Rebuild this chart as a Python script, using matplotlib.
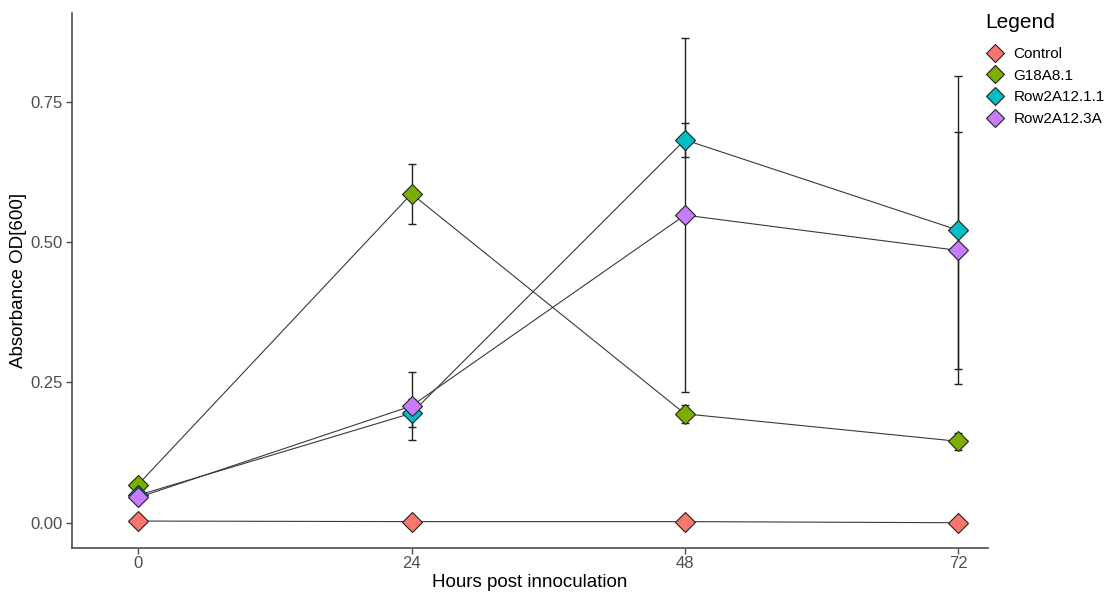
import matplotlib
matplotlib.use("Agg")
import matplotlib.pyplot as plt
from matplotlib.lines import Line2D

plt.rcParams['font.family'] = ['Liberation Sans', 'DejaVu Sans']

hours = [0, 24, 48, 72]
strains = ["Control", "G18A8.1", "Row2A12.1.1", "Row2A12.3A"]
colors = ["#F8766D", "#7CAE00", "#00BFC4", "#C77CFF"]

control_mean = [0.003, 0.002, 0.002, 0.000]
control_sd = [0.004, 0.004, 0.004, 0.003]
g18_mean = [0.068, 0.586, 0.194, 0.145]
g18_sd = [0.008, 0.053, 0.016, 0.015]
r1211_mean = [0.049, 0.195, 0.682, 0.521]
r1211_sd = [0.005, 0.025, 0.030, 0.274]
r123a_mean = [0.045, 0.208, 0.548, 0.485]
r123a_sd = [0.006, 0.061, 0.315, 0.211]

means = [control_mean, g18_mean, r1211_mean, r123a_mean]
sds = [control_sd, g18_sd, r1211_sd, r123a_sd]

fig = plt.figure(figsize=(11.06, 5.94), dpi=100)
ax = fig.add_axes([72 / 1106, 46 / 594, (988 - 72) / 1106, (548 - 13) / 594])

for m in means:
    ax.plot(hours, m, color="#3a3a3a", lw=0.8, zorder=1)
for m, s in zip(means, sds):
    ax.errorbar(hours, m, yerr=s, fmt="none", ecolor="#222222", elinewidth=1.0,
                capsize=2.8, capthick=1.0, zorder=2)
for m, c in zip(means, colors):
    ax.plot(hours, m, linestyle="none", marker="D", ms=10, mfc=c,
            mec="#222222", mew=0.8, zorder=3)

ax.set_xlim(-5.8, 74.6)
ax.set_ylim(-0.045, 0.908)
ax.set_xticks(hours)
ax.set_xticklabels([str(h) for h in hours])
ax.set_yticks([0.0, 0.25, 0.5, 0.75])
ax.set_yticklabels(["0.00", "0.25", "0.50", "0.75"])

for side in ["top", "right"]:
    ax.spines[side].set_visible(False)
for side in ["left", "bottom"]:
    ax.spines[side].set_color("#4D4D4D")
    ax.spines[side].set_linewidth(1.2)
ax.tick_params(axis="both", colors="#4D4D4D", labelcolor="#4D4D4D",
               labelsize=12, length=4, width=1)
ax.tick_params(axis="x", pad=2)
ax.tick_params(axis="y", pad=3)

ax.set_xlabel("Hours post innoculation", fontsize=13.5, color="black", labelpad=2)
ax.set_ylabel("Absorbance OD[600]", fontsize=13.5, color="black", labelpad=2)

fig.text(985 / 1106, 1 - 22 / 594, "Legend", fontsize=15, va="center", ha="left")

handles = [Line2D([], [], linestyle="none", marker="D", ms=9, mfc=c,
                  mec="#222222", mew=0.8) for c in colors]
leg = fig.legend(handles, strains, loc="upper left",
                 bbox_to_anchor=(986 / 1106, 1 - 47 / 594), frameon=False,
                 fontsize=11, handletextpad=0.6, labelspacing=0.5,
                 handlelength=1.2, borderaxespad=0, borderpad=0)

fig.savefig("out.png", dpi=100)
